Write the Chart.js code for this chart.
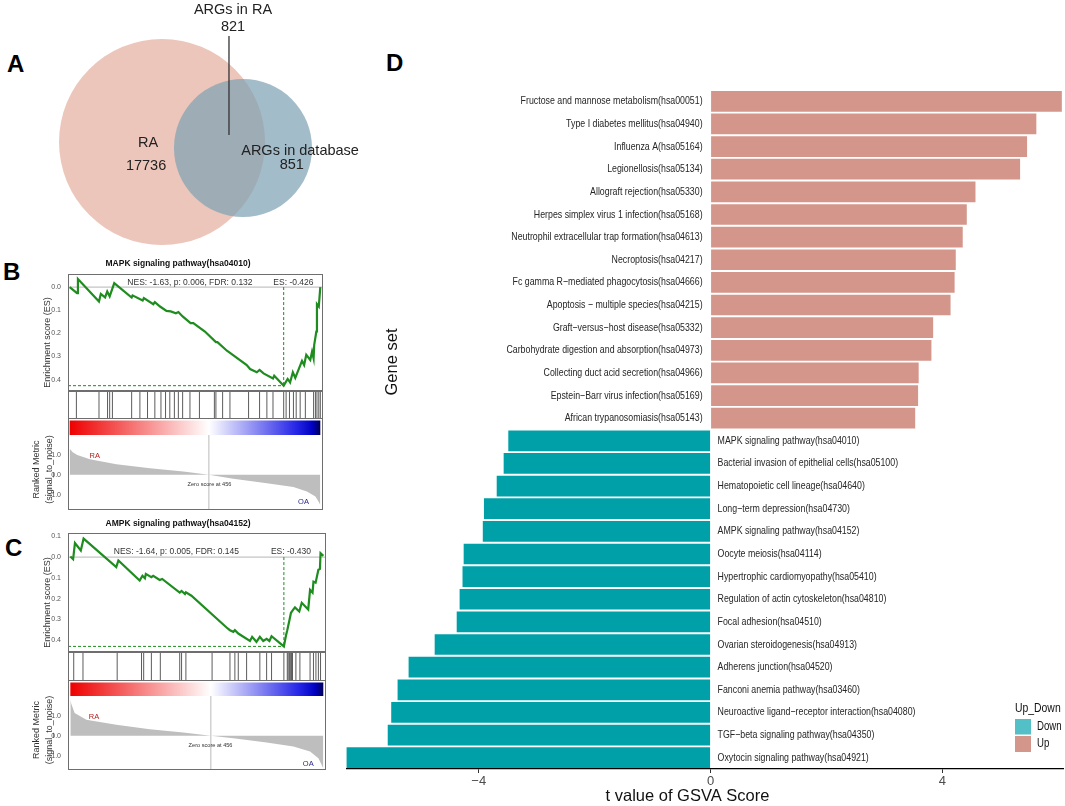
<!DOCTYPE html>
<html>
<head>
<meta charset="utf-8">
<script src="https://cdn.jsdelivr.net/npm/chart.js@4.4.1/dist/chart.umd.min.js"></script>
<style>
  html, body { margin: 0; padding: 0; background: #fff; }
  body { width: 1065px; height: 806px; position: relative; overflow: hidden; font-family: "Liberation Sans", Arial, sans-serif; }
  canvas { position: absolute; }
  .lab { position: absolute; font-weight: bold; font-size: 24px; line-height: 24px; color: #000; }
</style>
</head>
<body>
<div class="lab" style="left:7px;top:52px">A</div>
<div class="lab" style="left:3px;top:260px">B</div>
<div class="lab" style="left:5px;top:536px">C</div>
<div class="lab" style="left:386px;top:51px">D</div>
<canvas id="venn" style="left:0;top:0" width="370" height="255"></canvas>
<canvas id="gsva" style="left:346px;top:85px" width="719" height="721"></canvas>
<script>
// Panel A - Venn
const vennLabels = ["RA", "ARGs in database", "ARGs in RA"];
const vennCounts = [17736, 851, 821];

// Panel B / C - GSEA
const pathways = ["MAPK signaling pathway(hsa04010)", "AMPK signaling pathway(hsa04152)"];
const nesValues = [-1.63, -1.64];
const pValues = [0.006, 0.005];
const fdrValues = [0.132, 0.145];
const esValues = [-0.426, -0.430];
const listSize = 821;
const zeroScoreAt = 456;

const mapkRank = [0, 24, 27, 96, 102, 116, 123, 131, 146, 203, 206, 239, 243, 274, 279, 296, 317, 331, 348, 356,
  370, 396, 405, 443, 479, 484, 515, 523, 580, 591, 613, 622, 635, 666, 670, 701, 714, 722, 731, 739,
  761, 768, 775, 788, 794, 799, 801, 808, 810, 816, 821];
const mapkES = [0, -0.026, 0.035, -0.062, -0.030, -0.045, -0.019, -0.040, 0.017, -0.045, -0.036, -0.058, -0.048, -0.074, -0.065, -0.084, -0.103, -0.105, -0.113, -0.108,
  -0.127, -0.156, -0.156, -0.192, -0.238, -0.238, -0.275, -0.282, -0.337, -0.354, -0.368, -0.358, -0.373, -0.395, -0.383, -0.426, -0.397, -0.412, -0.368, -0.392,
  -0.319, -0.337, -0.293, -0.315, -0.279, -0.308, -0.250, -0.192, -0.074, -0.084, 0.0];
const mapkHits = [22, 96, 124, 131, 140, 203, 230, 255, 279, 299, 314, 328, 343, 356, 370, 394, 425, 474, 479, 501,
  525, 586, 622, 646, 666, 701, 709, 720, 733, 742, 755, 772, 799, 805, 810, 816, 821];
const mapkMetricRank = [0, 10, 25, 66, 153, 263, 372, 456, 536, 646, 733, 777, 805, 816, 821];
const mapkMetric = [1.3, 1.12, 0.98, 0.78, 0.53, 0.33, 0.17, 0, -0.2, -0.42, -0.6, -0.83, -1.08, -1.35, -1.5];

const ampkRank = [0, 9, 15, 34, 43, 149, 156, 225, 234, 242, 245, 263, 269, 290, 298, 355, 361, 372, 375, 393,
  507, 518, 529, 534, 545, 583, 590, 604, 615, 626, 637, 646, 653, 693, 700, 704, 711, 716, 724, 729,
  743, 751, 772, 778, 786, 789, 796, 805, 810, 812, 821];
const ampkES = [0.003, -0.010, 0.068, 0.032, 0.089, -0.048, -0.016, -0.113, -0.090, -0.102, -0.081, -0.097, -0.090, -0.110, -0.105, -0.171, -0.163, -0.178, -0.170, -0.186,
  -0.339, -0.352, -0.360, -0.352, -0.368, -0.404, -0.384, -0.408, -0.384, -0.404, -0.394, -0.404, -0.381, -0.430, -0.376, -0.352, -0.304, -0.268, -0.252, -0.242,
  -0.262, -0.220, -0.252, -0.158, -0.171, -0.118, -0.123, -0.061, -0.057, 0.019, 0.006];
const ampkHits = [11, 41, 152, 231, 238, 263, 292, 355, 361, 375, 460, 518, 534, 545, 572, 615, 637, 653, 693, 704,
  707, 711, 715, 718, 721, 732, 745, 778, 789, 797, 805, 812];
const ampkMetricRank = [0, 3, 14, 52, 149, 258, 366, 456, 529, 637, 724, 778, 805, 816, 821];
const ampkMetric = [1.8, 1.6, 1.13, 0.8, 0.55, 0.33, 0.17, 0, -0.12, -0.33, -0.53, -0.78, -1.12, -1.45, -1.62];

// Panel D - GSVA t values
const geneSets = [
  "Fructose and mannose metabolism(hsa00051)",
  "Type I diabetes mellitus(hsa04940)",
  "Influenza A(hsa05164)",
  "Legionellosis(hsa05134)",
  "Allograft rejection(hsa05330)",
  "Herpes simplex virus 1 infection(hsa05168)",
  "Neutrophil extracellular trap formation(hsa04613)",
  "Necroptosis(hsa04217)",
  "Fc gamma R\u2212mediated phagocytosis(hsa04666)",
  "Apoptosis \u2212 multiple species(hsa04215)",
  "Graft\u2212versus\u2212host disease(hsa05332)",
  "Carbohydrate digestion and absorption(hsa04973)",
  "Collecting duct acid secretion(hsa04966)",
  "Epstein\u2212Barr virus infection(hsa05169)",
  "African trypanosomiasis(hsa05143)",
  "MAPK signaling pathway(hsa04010)",
  "Bacterial invasion of epithelial cells(hsa05100)",
  "Hematopoietic cell lineage(hsa04640)",
  "Long\u2212term depression(hsa04730)",
  "AMPK signaling pathway(hsa04152)",
  "Oocyte meiosis(hsa04114)",
  "Hypertrophic cardiomyopathy(hsa05410)",
  "Regulation of actin cytoskeleton(hsa04810)",
  "Focal adhesion(hsa04510)",
  "Ovarian steroidogenesis(hsa04913)",
  "Adherens junction(hsa04520)",
  "Fanconi anemia pathway(hsa03460)",
  "Neuroactive ligand\u2212receptor interaction(hsa04080)",
  "TGF\u2212beta signaling pathway(hsa04350)",
  "Oxytocin signaling pathway(hsa04921)"
];
const tValues = [6.06, 5.62, 5.46, 5.34, 4.57, 4.42, 4.35, 4.23, 4.21, 4.14, 3.84, 3.81, 3.59, 3.58, 3.53,
  -3.49, -3.57, -3.69, -3.91, -3.93, -4.26, -4.28, -4.33, -4.38, -4.76, -5.21, -5.40, -5.51, -5.57, -6.28];
const legendTitle = "Up_Down";
const legendItems = ["Down", "Up"];

const FF = '"Liberation Sans", Arial, Helvetica, sans-serif';
const upColor = "#D4968A", downColor = "#00A0A9";
const upKey = "#D4968A", downKey = "#52C0C6";

Chart.defaults.font.family = FF;
Chart.defaults.animation = false;

// draw a text, optionally rotated and squeezed horizontally
function txt(ctx, s, x, y, o) {
  ctx.save();
  ctx.font = o.font;
  ctx.fillStyle = o.color || "#333";
  ctx.textAlign = o.align || "center";
  ctx.textBaseline = "middle";
  ctx.translate(x, y);
  if (o.rot) ctx.rotate(o.rot);
  ctx.scale(o.sx || 1, 1);
  ctx.fillText(s, 0, 0);
  ctx.restore();
}

function baseOpts(extra) {
  const o = Object.assign({
    responsive: false,
    animation: false,
    events: [],
    plugins: { legend: { display: false }, tooltip: { enabled: false } }
  }, extra);
  o.layout = Object.assign({ autoPadding: false }, o.layout || {});
  return o;
}

// fixed axis width, no extra padding from tick labels
function fixAxis(w) {
  return (s) => {
    s.width = w;
    s.paddingTop = 0;
    s.paddingBottom = 0;
  };
}

// ---------- A: Venn ----------
function unitRadius(u) {
  return (c) => {
    const s = c.chart.scales.x;
    const r = s.getPixelForValue(u) - s.getPixelForValue(0);
    return isFinite(r) && r > 0 ? r : 0;
  };
}

const vennDecor = {
  id: "vennDecor",
  afterDatasetsDraw(chart) {
    const { ctx, scales: { x, y } } = chart;
    const X = (v) => x.getPixelForValue(v), Y = (v) => y.getPixelForValue(v);
    ctx.save();
    ctx.strokeStyle = "#333";
    ctx.lineWidth = 1.3;
    ctx.beginPath();
    ctx.moveTo(X(0.65), Y(1.03));
    ctx.lineTo(X(0.65), Y(0.068));
    ctx.stroke();
    ctx.restore();
    const f = { font: "14.5px " + FF, color: "#222" };
    txt(ctx, vennLabels[2], X(0.689), Y(1.282), f);
    txt(ctx, String(vennCounts[2]), X(0.689), Y(1.117), f);
    txt(ctx, vennLabels[0], X(-0.136), Y(-0.01), f);
    txt(ctx, String(vennCounts[0]), X(-0.155), Y(-0.233), f);
    txt(ctx, vennLabels[1], X(1.34), Y(-0.087), f);
    txt(ctx, String(vennCounts[1]), X(1.26), Y(-0.223), f);
  }
};

// dataset 0 is drawn on top, so the database set comes first
new Chart(document.getElementById("venn"), {
  type: "scatter",
  data: {
    datasets: [
      { label: vennLabels[1], data: [{ x: 0.786, y: -0.058 }], pointRadius: unitRadius(0.67), pointBackgroundColor: "rgba(128,162,180,0.72)", pointBorderWidth: 0, clip: false },
      { label: vennLabels[0], data: [{ x: 0, y: 0 }], pointRadius: unitRadius(1), pointBackgroundColor: "rgb(236,198,187)", pointBorderWidth: 0, clip: false }
    ]
  },
  options: baseOpts({
    layout: { padding: 0 },
    scales: {
      x: { type: "linear", display: false, min: -1.573, max: 2.019 },
      y: { type: "linear", display: false, min: -1.097, max: 1.379 }
    }
  }),
  plugins: [vennDecor]
});

// ---------- B / C: GSEA plots ----------
const AXIS_W = 42;
const boxColor = "#6E6E6E";
const gseaLayout = [
  { left: 26, width: 297, esTop: 256, esH: 135, hitsH: 28, barH: 16, rankH: 75, titleY: 8,
    esRange: [-0.449, 0.0564], rankRange: [-1.75, 1.98], xRange: [-5.5, 829.8],
    nesAt: [394, 0.02], esAt: [733, 0.02], raAt: [82, 0.92], oaAt: [766, -1.37], zeroAt: [458, -0.5] },
  { left: 26, width: 300, esTop: 515, esH: 137, hitsH: 29, barH: 15, rankH: 74, titleY: 9,
    esRange: [-0.457, 0.116], rankRange: [-1.7, 1.98], xRange: [-7.6, 829.7],
    nesAt: [344, 0.027], esAt: [716, 0.027], raAt: [77, 0.92], oaAt: [772, -1.42], zeroAt: [455, -0.5] }
];

function addCanvas(left, top, w, h) {
  const c = document.createElement("canvas");
  c.width = w;
  c.height = h;
  c.style.left = left + "px";
  c.style.top = top + "px";
  document.body.appendChild(c);
  return c;
}

function boxPlugin(sides) {
  return {
    id: "box",
    afterDraw(chart) {
      const { ctx, chartArea: a } = chart;
      ctx.save();
      ctx.strokeStyle = boxColor;
      ctx.lineWidth = 1;
      ctx.beginPath();
      if (sides.includes("t")) { ctx.moveTo(a.left, a.top + 0.5); ctx.lineTo(a.right, a.top + 0.5); }
      if (sides.includes("b")) { ctx.moveTo(a.left, a.bottom - 0.5); ctx.lineTo(a.right, a.bottom - 0.5); }
      if (sides.includes("l")) { ctx.moveTo(a.left + 0.5, a.top); ctx.lineTo(a.left + 0.5, a.bottom); }
      if (sides.includes("r")) { ctx.moveTo(a.right - 0.5, a.top); ctx.lineTo(a.right - 0.5, a.bottom); }
      ctx.stroke();
      ctx.restore();
    }
  };
}

function yTicks(step) {
  return {
    stepSize: step, includeBounds: false, padding: 7, color: "#555",
    font: { size: 7 }, autoSkip: false,
    callback: (v) => Math.abs(v).toFixed(1)
  };
}

function buildGsea(k, rank, es, hits, mRank, metric) {
  const L = gseaLayout[k];
  const xs = { type: "linear", display: false, min: L.xRange[0], max: L.xRange[1] };
  const minIdx = es.indexOf(Math.min(...es));
  const green = "#1E8C1E";

  // running enrichment score
  const esDecor = {
    id: "esDecor",
    beforeDatasetsDraw(chart) {
      const { ctx, chartArea: a, scales: { x, y } } = chart;
      ctx.save();
      ctx.strokeStyle = "#C4C4C4";
      ctx.lineWidth = 1.2;
      ctx.beginPath();
      ctx.moveTo(a.left, y.getPixelForValue(0));
      ctx.lineTo(a.right, y.getPixelForValue(0));
      ctx.stroke();
      ctx.strokeStyle = green;
      ctx.lineWidth = 1;
      ctx.setLineDash([3, 2]);
      ctx.beginPath();
      ctx.moveTo(a.left, y.getPixelForValue(es[minIdx]));
      ctx.lineTo(x.getPixelForValue(rank[minIdx]), y.getPixelForValue(es[minIdx]));
      ctx.moveTo(x.getPixelForValue(rank[minIdx]), y.getPixelForValue(0));
      ctx.lineTo(x.getPixelForValue(rank[minIdx]), y.getPixelForValue(es[minIdx]));
      ctx.stroke();
      ctx.restore();
    },
    afterDraw(chart) {
      const { ctx, chartArea: a, scales: { x, y } } = chart;
      txt(ctx, pathways[k], 152, L.titleY, { font: "bold 8.5px " + FF, color: "#111" });
      const nes = "NES: " + nesValues[k].toFixed(2) + ", p: " + pValues[k].toFixed(3) + ", FDR: " + fdrValues[k].toFixed(3);
      txt(ctx, nes, x.getPixelForValue(L.nesAt[0]), y.getPixelForValue(L.nesAt[1]), { font: "8.5px " + FF, color: "#333" });
      txt(ctx, "ES: " + esValues[k].toFixed(3), x.getPixelForValue(L.esAt[0]), y.getPixelForValue(L.esAt[1]), { font: "8.5px " + FF, color: "#333" });
      txt(ctx, "Enrichment score (ES)", 22, (a.top + a.bottom) / 2 + 10, { font: "9px " + FF, color: "#333", rot: -Math.PI / 2 });
    }
  };

  new Chart(addCanvas(L.left, L.esTop, L.width, L.esH), {
    type: "line",
    data: {
      datasets: [{
        data: rank.map((r, j) => ({ x: r, y: es[j] })),
        borderColor: green, borderWidth: 2.2, pointRadius: 0, tension: 0, fill: false
      }]
    },
    options: baseOpts({
      layout: { padding: { top: 18 } },
      scales: {
        x: xs,
        y: {
          min: L.esRange[0], max: L.esRange[1],
          grid: { display: false, drawTicks: false }, border: { display: false },
          ticks: yTicks(0.1),
          afterFit: fixAxis(AXIS_W)
        }
      }
    }),
    plugins: [esDecor, boxPlugin("tblr")]
  });

  // hit positions
  const hitsTop = L.esTop + L.esH;
  new Chart(addCanvas(L.left, hitsTop, L.width, L.hitsH), {
    type: "scatter",
    data: {
      datasets: [{
        data: hits.map((h) => ({ x: h, y: 0.5 })),
        pointStyle: "line", pointRotation: 90,
        pointRadius: (c) => (c.chart.chartArea ? c.chart.chartArea.height / 2 : 14),
        pointBorderColor: "#4A4A4A", pointBorderWidth: 0.9
      }]
    },
    options: baseOpts({
      layout: { padding: { left: AXIS_W } },
      scales: { x: xs, y: { display: false, min: 0, max: 1 } }
    }),
    plugins: [boxPlugin("tblr")]
  });

  // colour bar
  const barTop = hitsTop + L.hitsH;
  const colorBar = {
    id: "colorBar",
    afterDraw(chart) {
      const { ctx, chartArea: a, scales: { x } } = chart;
      const x0 = x.getPixelForValue(0), x1 = x.getPixelForValue(listSize);
      const g = ctx.createLinearGradient(x0, 0, x1, 0);
      g.addColorStop(0, "#EE0000");
      g.addColorStop(zeroScoreAt / listSize, "#FFFFFF");
      g.addColorStop(0.9, "#2828E8");
      g.addColorStop(0.97, "#0000C0");
      g.addColorStop(1, "#000050");
      ctx.save();
      ctx.fillStyle = g;
      ctx.fillRect(x0, a.top + 1.5, x1 - x0, a.bottom - a.top - 1.5);
      ctx.restore();
    }
  };
  new Chart(addCanvas(L.left, barTop, L.width, L.barH), {
    type: "scatter",
    data: { datasets: [] },
    options: baseOpts({
      layout: { padding: { left: AXIS_W } },
      scales: { x: xs, y: { display: false, min: 0, max: 1 } }
    }),
    plugins: [colorBar, boxPlugin("lr")]
  });

  // ranked list metric
  const rankTop = barTop + L.barH;
  const rankDecor = {
    id: "rankDecor",
    afterDatasetsDraw(chart) {
      const { ctx, chartArea: a, scales: { x, y } } = chart;
      const zx = x.getPixelForValue(zeroScoreAt);
      ctx.save();
      ctx.strokeStyle = "#A8A8A8";
      ctx.lineWidth = 0.8;
      ctx.beginPath();
      ctx.moveTo(zx, a.top);
      ctx.lineTo(zx, a.bottom);
      ctx.stroke();
      ctx.restore();
      txt(ctx, "Zero score at " + zeroScoreAt, x.getPixelForValue(L.zeroAt[0]), y.getPixelForValue(L.zeroAt[1]), { font: "5.6px " + FF, color: "#333" });
      txt(ctx, "RA", x.getPixelForValue(L.raAt[0]), y.getPixelForValue(L.raAt[1]), { font: "7.5px " + FF, color: "#B22222" });
      txt(ctx, "OA", x.getPixelForValue(L.oaAt[0]), y.getPixelForValue(L.oaAt[1]), { font: "7.5px " + FF, color: "#28288C" });
      const cy = (a.top + a.bottom) / 2 - 3;
      txt(ctx, "Ranked Metric", 11, cy, { font: "9px " + FF, color: "#333", rot: -Math.PI / 2 });
      txt(ctx, "(signal_to_noise)", 24, cy, { font: "9px " + FF, color: "#333", rot: -Math.PI / 2 });
    }
  };
  new Chart(addCanvas(L.left, rankTop, L.width, L.rankH), {
    type: "line",
    data: {
      datasets: [{
        data: mRank.map((r, j) => ({ x: r, y: metric[j] })),
        borderWidth: 0, pointRadius: 0, tension: 0,
        fill: "origin", backgroundColor: "#BEBEBE"
      }]
    },
    options: baseOpts({
      scales: {
        x: xs,
        y: {
          min: L.rankRange[0], max: L.rankRange[1],
          grid: { display: false, drawTicks: false }, border: { display: false },
          ticks: yTicks(1),
          afterFit: fixAxis(AXIS_W)
        }
      }
    }),
    plugins: [rankDecor, boxPlugin("lrb")]
  });
}

buildGsea(0, mapkRank, mapkES, mapkHits, mapkMetricRank, mapkMetric);
buildGsea(1, ampkRank, ampkES, ampkHits, ampkMetricRank, ampkMetric);

// ---------- D: GSVA bar chart ----------
const gsvaDecor = {
  id: "gsvaDecor",
  afterDatasetsDraw(chart) {
    const { ctx, chartArea: a, scales: { x, y } } = chart;
    const x0 = x.getPixelForValue(0);
    geneSets.forEach((name, i) => {
      const up = tValues[i] > 0;
      txt(ctx, name, up ? x0 - 8 : x0 + 7, y.getPixelForValue(i),
        { font: "11px " + FF, color: "#262626", align: up ? "right" : "left", sx: 0.8 });
    });
    txt(ctx, "Gene set", a.left + 46, a.top + 272, { font: "16.5px " + FF, color: "#111", rot: -Math.PI / 2 });
    txt(ctx, "t value of GSVA Score", (a.left + a.right) / 2 - 17, a.bottom + 27, { font: "16.5px " + FF, color: "#111" });

    // legend
    const lx = a.right - 48;
    txt(ctx, legendTitle, lx, a.bottom - 61, { font: "13px " + FF, color: "#111", align: "left", sx: 0.8 });
    ctx.save();
    ctx.fillStyle = downKey;
    ctx.fillRect(lx, a.bottom - 50, 16, 15.5);
    ctx.fillStyle = upKey;
    ctx.fillRect(lx, a.bottom - 33, 16, 16);
    ctx.restore();
    txt(ctx, legendItems[0], lx + 22, a.bottom - 42, { font: "12px " + FF, color: "#111", align: "left", sx: 0.8 });
    txt(ctx, legendItems[1], lx + 22, a.bottom - 25, { font: "12px " + FF, color: "#111", align: "left", sx: 0.8 });
  }
};

new Chart(document.getElementById("gsva"), {
  type: "bar",
  data: {
    labels: geneSets,
    datasets: [{
      data: tValues,
      backgroundColor: tValues.map((v) => (v > 0 ? upColor : downColor)),
      barPercentage: 0.915,
      categoryPercentage: 1,
      borderWidth: 0
    }]
  },
  options: baseOpts({
    indexAxis: "y",
    layout: { padding: { top: 5, right: 2, left: 0, bottom: 0 } },
    scales: {
      y: { display: false },
      x: {
        min: -6.29, max: 6.08,
        grid: { display: true, drawOnChartArea: false, drawTicks: true, tickLength: 4, color: "#333" },
        border: { display: true, color: "#000", width: 1.3 },
        ticks: {
          stepSize: 4, includeBounds: false, color: "#4D4D4D", padding: 1,
          font: { size: 13 },
          callback: (v) => (v < 0 ? "\u2212" + Math.abs(v) : String(v))
        },
        afterFit: (s) => { s.height = 37; }
      }
    }
  }),
  plugins: [gsvaDecor]
});
</script>
</body>
</html>
